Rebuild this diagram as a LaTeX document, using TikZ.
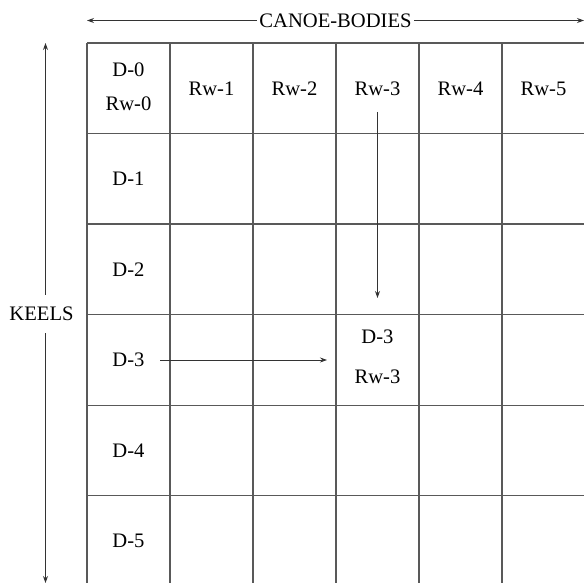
\documentclass[tikz,border=0pt]{standalone}
\usepackage{fontspec}
\setmainfont{Liberation Serif}
\usetikzlibrary{arrows.meta}
\begin{document}
\begin{tikzpicture}[x=1pt,y=-1pt,
  gridline/.style={line width=1.1pt,black!65},
  lbl/.style={font=\fontsize{20.6}{24}\selectfont,inner sep=0pt},
  arr/.style={line width=0.8pt,black!80,-{Stealth[length=7pt,width=5pt,inset=2.5pt]}},
  dbl/.style={line width=0.8pt,black!80,{Stealth[length=7pt,width=5pt,inset=2.5pt]}-{Stealth[length=7pt,width=5pt,inset=2.5pt]}}]
\useasboundingbox (0,0) rectangle (584,583);
\begin{scope}
\clip (0,0) rectangle (584,583);
\foreach \xx in {87,170,253,336,419,502,585} \draw[gridline] (\xx,43) -- (\xx,600);
\foreach \yy in {43,133.5,224,314.7,405.2,495.7} \draw[gridline] (87,\yy) -- (600,\yy);
\end{scope}
% header row
\node[lbl] (d0) at (128.5,70) {D-0};
\node[lbl] (rw0) at (128.5,104) {Rw-0};
\foreach \i/\xx in {1/211.5,2/294.5,3/377.5,4/460.5,5/543.5}
  \node[lbl] (rw\i) at (\xx,88.5) {Rw-\i};
% row labels
\foreach \i/\yy in {1/179,2/269.5,3/360,4/450.5,5/541}
  \node[lbl] (d\i) at (128.5,\yy) {D-\i};
% target cell
\node[lbl] (td) at (377.5,337) {D-3};
\node[lbl] (trw) at (377.5,377) {Rw-3};
% axes
\coordinate (tl) at (87,20.5);
\coordinate (tr) at (584,20.5);
\draw[dbl] (tl) -- (tr);
\node[lbl,fill=white,inner xsep=2pt] (cb) at (335.5,20.5) {CANOE-BODIES};
\coordinate (lt) at (45.5,43);
\coordinate (lb) at (45.5,583);
\draw[dbl] (lt) -- (lb);
\node[lbl,fill=white,inner ysep=12pt] (keels) at (41.5,314) {KEELS};
% arrows
\coordinate (vs) at (377.5,112);
\coordinate (ve) at (377.5,298);
\draw[arr] (vs) -- (ve);
\coordinate (hs) at (160,360);
\coordinate (he) at (327,360);
\draw[arr] (hs) -- (he);
\end{tikzpicture}
\end{document}
